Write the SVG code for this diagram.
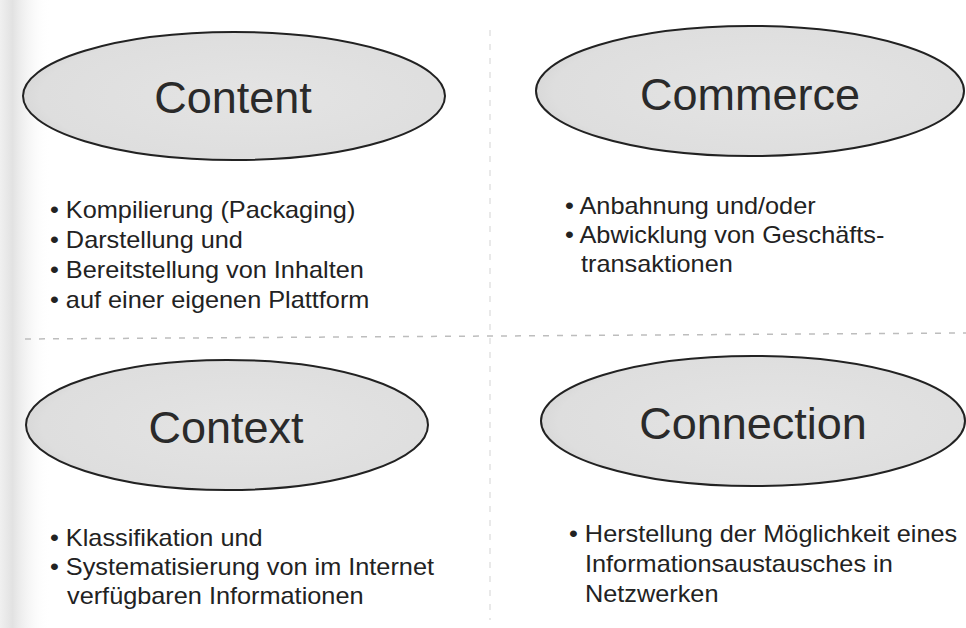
<svg xmlns="http://www.w3.org/2000/svg" width="966" height="628" viewBox="0 0 966 628">
  <defs>
    <radialGradient id="ellFill" cx="0.55" cy="0.5" r="0.6">
      <stop offset="0" stop-color="#e4e4e4"/>
      <stop offset="0.85" stop-color="#dedede"/>
      <stop offset="1" stop-color="#d2d2d2"/>
    </radialGradient>
    <linearGradient id="edge" x1="0" y1="0" x2="1" y2="0">
      <stop offset="0" stop-color="#f0f0f0"/>
      <stop offset="0.25" stop-color="#e2e2e2"/>
      <stop offset="1" stop-color="#ffffff" stop-opacity="0"/>
    </linearGradient>
    <style>
      .ell { fill: url(#ellFill); stroke: #222; stroke-width: 2; }
      .title { font-family: "Liberation Sans", Arial, sans-serif; font-size: 45px; fill: #2a2a2a; text-anchor: middle; }
      .item { font-family: "Liberation Sans", Arial, sans-serif; font-size: 23px; fill: #222; }
      .sep { stroke: #bdbdbd; stroke-width: 1.5; stroke-dasharray: 6 8; fill: none; }
      .vsep { stroke: #e2e2e2; stroke-width: 1.5; stroke-dasharray: 6 8; fill: none; }
    </style>
  </defs>
  <rect x="0" y="0" width="966" height="628" fill="#ffffff"/>
  <rect x="0" y="0" width="50" height="628" fill="url(#edge)"/>

  <g id="dividers">
    <line class="sep" x1="25" y1="339" x2="966" y2="333"/>
    <line class="vsep" x1="490" y1="30" x2="490" y2="620"/>
  </g>

  <g id="connectors"/>

  <g id="content">
    <ellipse class="ell" cx="234" cy="96" rx="211" ry="64"/>
    <text class="title" x="233" y="113">Content</text>
    <text class="item" transform="translate(50,218) scale(1.1,1)">• Kompilierung (Packaging)</text>
    <text class="item" transform="translate(50,248) scale(1.1,1)">• Darstellung und</text>
    <text class="item" transform="translate(50,278) scale(1.1,1)">• Bereitstellung von Inhalten</text>
    <text class="item" transform="translate(50,308) scale(1.1,1)">• auf einer eigenen Plattform</text>
  </g>

  <g id="commerce">
    <ellipse class="ell" cx="750" cy="91" rx="214" ry="65"/>
    <text class="title" x="750" y="110">Commerce</text>
    <text class="item" transform="translate(565,214) scale(1.1,1)">• Anbahnung und/oder</text>
    <text class="item" transform="translate(565,243) scale(1.1,1)">• Abwicklung von Geschäfts-</text>
    <text class="item" transform="translate(581,272) scale(1.1,1)">transaktionen</text>
  </g>

  <g id="context">
    <ellipse class="ell" cx="227" cy="425" rx="201" ry="65"/>
    <text class="title" x="226" y="443">Context</text>
    <text class="item" transform="translate(50,546) scale(1.1,1)">• Klassifikation und</text>
    <text class="item" transform="translate(50,575) scale(1.1,1)">• Systematisierung von im Internet</text>
    <text class="item" transform="translate(67,604) scale(1.1,1)">verfügbaren Informationen</text>
  </g>

  <g id="connection">
    <ellipse class="ell" cx="753" cy="421" rx="212" ry="65"/>
    <text class="title" x="753" y="439">Connection</text>
    <text class="item" transform="translate(569,542) scale(1.1,1)">• Herstellung der Möglichkeit eines</text>
    <text class="item" transform="translate(585,572) scale(1.1,1)">Informationsaustausches in</text>
    <text class="item" transform="translate(585,602) scale(1.1,1)">Netzwerken</text>
  </g>
</svg>
